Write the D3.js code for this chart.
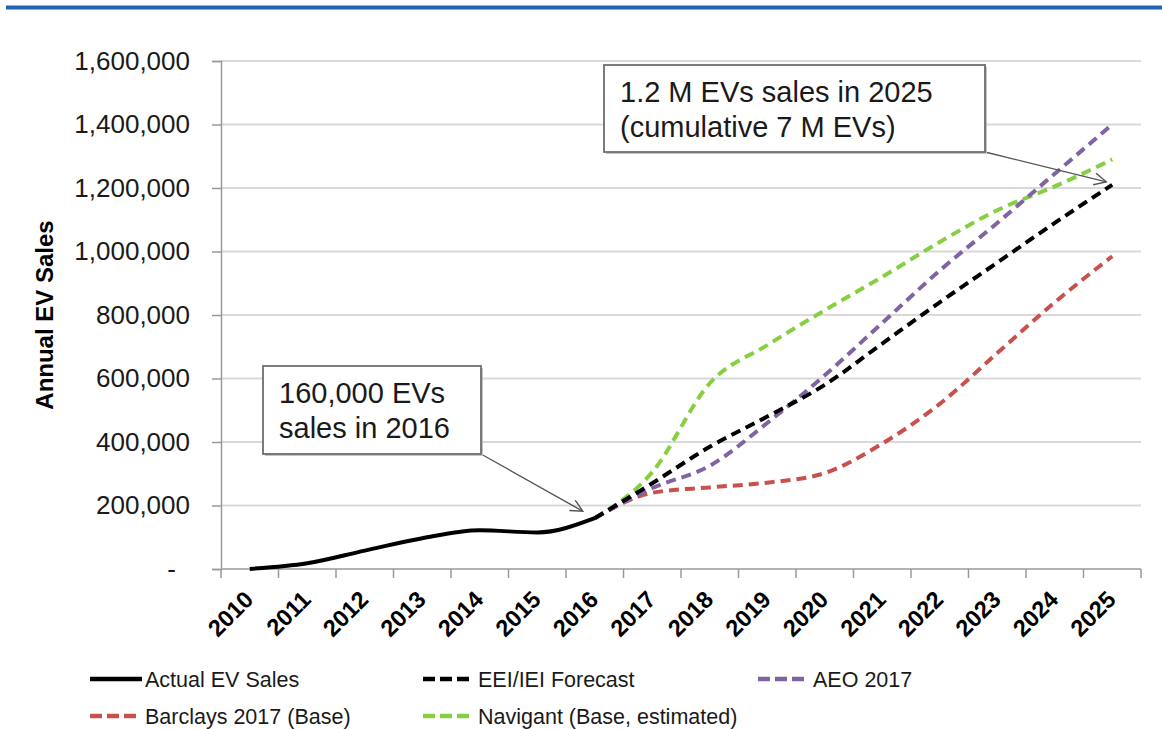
<!DOCTYPE html>
<html>
<head>
<meta charset="utf-8">
<script src="https://cdn.jsdelivr.net/npm/d3@7"></script>
<style>
  body { margin: 0; background: #fff; }
  svg { display: block; font-family: "Liberation Sans", Arial, sans-serif; }
</style>
</head>
<body>
<svg width="1162" height="729"></svg>
<script>
const years = ['2010','2011','2012','2013','2014','2015','2016','2017','2018','2019','2020','2021','2022','2023','2024','2025'];
const actualYears = years.slice(0, 7);
const forecastYears = years.slice(6);

const actualSales = [350, 18000, 58000, 97000, 122000, 115000, 160000];
const eeiForecast = [160000, 270000, 385000, 480000, 580000, 710000, 840000, 965000, 1090000, 1210000];
const aeo2017 = [160000, 255000, 325000, 460000, 610000, 775000, 940000, 1090000, 1245000, 1400000];
const barclays = [160000, 240000, 257000, 272000, 302000, 395000, 520000, 680000, 840000, 985000];
const navigant = [160000, 305000, 585000, 705000, 815000, 920000, 1030000, 1130000, 1205000, 1290000];

const yTicks = [0, 200000, 400000, 600000, 800000, 1000000, 1200000, 1400000, 1600000];

const series = [
    { name: 'Actual EV Sales', color: '#000000', dashed: false, x: actualYears, y: actualSales },
    { name: 'EEI/IEI Forecast', color: '#000000', dashed: true, x: forecastYears, y: eeiForecast },
    { name: 'AEO 2017', color: '#8064a2', dashed: true, x: forecastYears, y: aeo2017 },
    { name: 'Barclays 2017 (Base)', color: '#c8504d', dashed: true, x: forecastYears, y: barclays },
    { name: 'Navigant (Base, estimated)', color: '#86cf42', dashed: true, x: forecastYears, y: navigant }
];
// draw order: green under the others, black forecast on top
const drawOrder = [4, 3, 2, 1, 0];

const notes = [
    { lines: ['160,000 EVs', 'sales in 2016'], box: [263, 366, 218, 88], year: '2016', value: 160000, off: [-12, -7] },
    { lines: ['1.2 M EVs sales in 2025', '(cumulative 7 M EVs)'], box: [604, 65, 381, 87], year: '2025', value: 1210000, off: [-6, -3] }
];

const svg = d3.select('svg');
const margin = { top: 61, right: 21, bottom: 160, left: 221 };
const width = +svg.attr('width');
const height = +svg.attr('height');
const innerW = width - margin.left - margin.right;
const innerH = height - margin.top - margin.bottom;

const x = d3.scaleBand().domain(years).range([margin.left, margin.left + innerW]);
const y = d3.scaleLinear().domain([0, 1600000]).range([margin.top + innerH, margin.top]);
const cx = d => x(d) + x.bandwidth() / 2;

// blue rule across the top
svg.append('line')
    .attr('x1', 6).attr('x2', width).attr('y1', 7.5).attr('y2', 7.5)
    .attr('stroke', '#1f65b1').attr('stroke-width', 4);

// gridlines
svg.append('g')
    .selectAll('line')
    .data(yTicks.filter(d => d > 0))
    .enter().append('line')
    .attr('x1', margin.left).attr('x2', margin.left + innerW)
    .attr('y1', d => y(d)).attr('y2', d => y(d))
    .attr('stroke', '#d9d9d9').attr('stroke-width', 2);

// y axis
const yAxis = svg.append('g')
    .attr('transform', `translate(${margin.left},0)`)
    .call(d3.axisLeft(y).tickValues(yTicks).tickSize(9).tickPadding(22)
        .tickFormat(d => d === 0 ? '-' : d3.format(',')(d)));
yAxis.select('.domain').attr('stroke', '#9a9a9a').attr('stroke-width', 1.5);
yAxis.selectAll('.tick line').attr('stroke', '#9a9a9a').attr('stroke-width', 1.5);
yAxis.selectAll('.tick text')
    .attr('font-size', 26).attr('fill', '#1a1a1a')
    .attr('font-family', '"Liberation Sans", Arial, sans-serif')
    .attr('dx', d => d === 0 ? -14 : 0);

svg.append('text')
    .attr('transform', `translate(53, ${margin.top + innerH / 2}) rotate(-90)`)
    .attr('text-anchor', 'middle')
    .attr('font-size', 24).attr('font-weight', 'bold')
    .text('Annual EV Sales');

// x axis with ticks between categories
const xg = svg.append('g');
xg.append('line')
    .attr('x1', margin.left).attr('x2', margin.left + innerW)
    .attr('y1', y(0)).attr('y2', y(0))
    .attr('stroke', '#9a9a9a').attr('stroke-width', 1.5);
xg.selectAll('.xtick')
    .data(years.map(d => x(d)).concat([margin.left + innerW]))
    .enter().append('line')
    .attr('x1', d => d).attr('x2', d => d)
    .attr('y1', y(0)).attr('y2', y(0) + 9)
    .attr('stroke', '#9a9a9a').attr('stroke-width', 1.5);
xg.selectAll('.xlabel')
    .data(years)
    .enter().append('text')
    .attr('transform', d => `translate(${cx(d) + 5}, ${y(0) + 32}) rotate(-45)`)
    .attr('text-anchor', 'end')
    .attr('font-size', 23.5).attr('font-weight', 'bold')
    .text(d => d);

// lines
const line = d3.line()
    .x(d => cx(d[0]))
    .y(d => y(d[1]))
    .curve(d3.curveMonotoneX);

drawOrder.forEach(i => {
    const s = series[i];
    svg.append('path')
        .datum(s.x.map((yr, j) => [yr, s.y[j]]))
        .attr('d', line)
        .attr('fill', 'none')
        .attr('stroke', s.color)
        .attr('stroke-width', 4)
        .attr('stroke-linejoin', 'round')
        .attr('stroke-dasharray', s.dashed ? '10,6' : null);
});

// annotations
svg.append('defs').append('marker')
    .attr('id', 'arrow')
    .attr('markerUnits', 'userSpaceOnUse')
    .attr('markerWidth', 16).attr('markerHeight', 16)
    .attr('refX', 13).attr('refY', 6)
    .attr('orient', 'auto')
    .append('path')
    .attr('d', 'M1,0 L13,6 L1,12')
    .attr('fill', 'none').attr('stroke', '#555').attr('stroke-width', 1.4);

notes.forEach(n => {
    const [bx, by, bw, bh] = n.box;
    svg.append('line')
        .attr('x1', bx + bw).attr('y1', by + bh)
        .attr('x2', cx(n.year) + n.off[0]).attr('y2', y(n.value) + n.off[1])
        .attr('stroke', '#555').attr('stroke-width', 1.4)
        .attr('marker-end', 'url(#arrow)');
    svg.append('rect')
        .attr('x', bx + 2).attr('y', by + 2).attr('width', bw).attr('height', bh)
        .attr('fill', '#c4c4c4');
    svg.append('rect')
        .attr('x', bx).attr('y', by).attr('width', bw).attr('height', bh)
        .attr('fill', '#fff').attr('stroke', '#6e6e6e').attr('stroke-width', 1.8);
    n.lines.forEach((t, k) => {
        svg.append('text')
            .attr('x', bx + 16).attr('y', by + 37 + k * 35)
            .attr('font-size', 29).attr('fill', '#1a1a1a')
            .text(t);
    });
});

// legend
const legend = svg.append('g');
const colX = [90, 423, 758];
const rowY = [679, 716];
series.forEach((s, i) => {
    const lx = colX[i % 3];
    const ly = rowY[Math.floor(i / 3)];
    legend.append('line')
        .attr('x1', lx).attr('x2', lx + (s.dashed ? 46 : 52))
        .attr('y1', ly).attr('y2', ly)
        .attr('stroke', s.color).attr('stroke-width', 4.5)
        .attr('stroke-dasharray', s.dashed ? '12,5' : null);
    legend.append('text')
        .attr('x', lx + 55).attr('y', ly + 8)
        .attr('font-size', 21.5).attr('fill', '#1a1a1a')
        .text(s.name);
});
</script>
</body>
</html>
